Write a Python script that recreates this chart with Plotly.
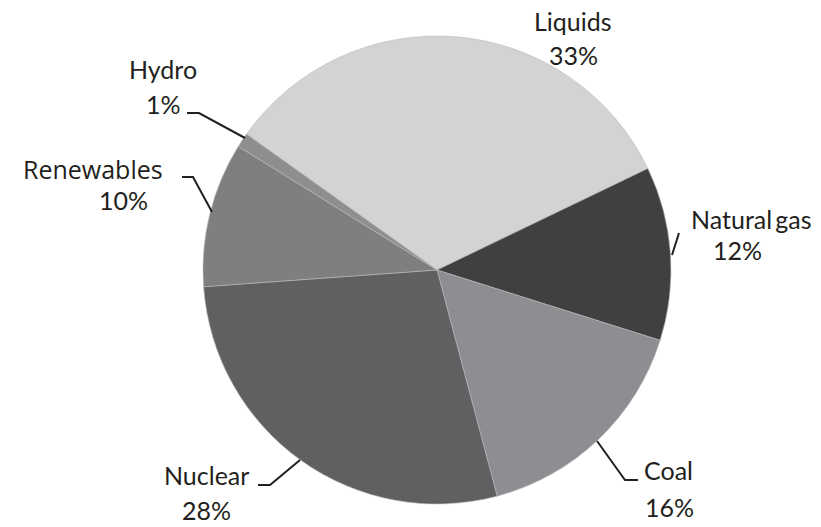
import plotly.graph_objects as go

# ---- data ----
categories = ["Liquids", "Natural gas", "Coal", "Nuclear", "Renewables", "Hydro"]
shares = [33, 12, 16, 28, 10, 1]
pct_labels = ["33%", "12%", "16%", "28%", "10%", "1%"]
name_labels = ["Liquids", "Natural\u2009gas", "Coal", "Nuclear", "Renewables", "Hydro"]

# ---- styles ----
colors = ["#d2d3d5", "#404040", "#8d8e91", "#606062", "#7f7f81", "#8e8e90"]
W, H = 821, 527              # figure size (body margin removed below)
cx, cy, r = 437, 270, 234    # pie centre / radius in page pixels


def px(x):
    return x / W


def py(y):
    return 1 - y / H


fig = go.Figure(go.Pie(
    labels=categories,
    values=shares,
    sort=False,
    direction="clockwise",
    rotation=305.5,
    marker=dict(colors=colors, line=dict(color="#b8b8ba", width=0.6)),
    textinfo="none",
    hoverinfo="label+percent",
    showlegend=False,
    domain=dict(x=[px(cx - r), px(cx + r)], y=[py(cy + r), py(cy - r)]),
))

# label placement (page pixel centres) - layout only
name_pos = {
    "Liquids": (573, 21),
    "Natural gas": (751, 219),
    "Coal": (668, 470),
    "Nuclear": (206, 475),
    "Renewables": (93, 169),
    "Hydro": (163, 69),
}
pct_pos = {
    "Liquids": (573, 55),
    "Natural gas": (737, 250),
    "Coal": (669, 507),
    "Nuclear": (206, 510),
    "Renewables": (123, 200),
    "Hydro": (163, 104),
}
leaders = {
    "Natural gas": [(672, 255), (679, 233)],
    "Coal": [(597, 441), (625, 480), (638, 480)],
    "Nuclear": [(300, 460), (270, 485), (258, 485)],
    "Renewables": [(212, 212), (193, 177), (182, 177)],
    "Hydro": [(245, 138), (199, 113), (187, 113)],
}

font_main = dict(family="Lato, Carlito, Calibri, sans-serif", size=25, color="#231f20")
font_ren = dict(family="Open Sans, sans-serif", size=25, color="#231f20")

annotations = []
for cat, nm, pct in zip(categories, name_labels, pct_labels):
    f = font_ren if cat == "Renewables" else font_main
    x, y = name_pos[cat]
    annotations.append(dict(x=px(x), y=py(y), xref="paper", yref="paper", text=nm,
                            showarrow=False, xanchor="center", yanchor="middle", font=f))
    x, y = pct_pos[cat]
    annotations.append(dict(x=px(x), y=py(y), xref="paper", yref="paper", text=pct,
                            showarrow=False, xanchor="center", yanchor="middle", font=font_main))

shapes = []
for cat, pts in leaders.items():
    path = "M " + " L ".join(f"{px(x)},{py(y)}" for x, y in pts)
    shapes.append(dict(type="path", xref="paper", yref="paper", path=path,
                       line=dict(color="#231f20", width=2)))

fig.update_layout(
    width=W, height=H,
    margin=dict(l=0, r=0, t=0, b=0),
    paper_bgcolor="white", plot_bgcolor="white",
    annotations=annotations, shapes=shapes,
)

fig.write_html(
    "out.html",
    config={"displayModeBar": False},
    post_script="document.body.style.margin='0';document.body.style.overflow='hidden';",
)
